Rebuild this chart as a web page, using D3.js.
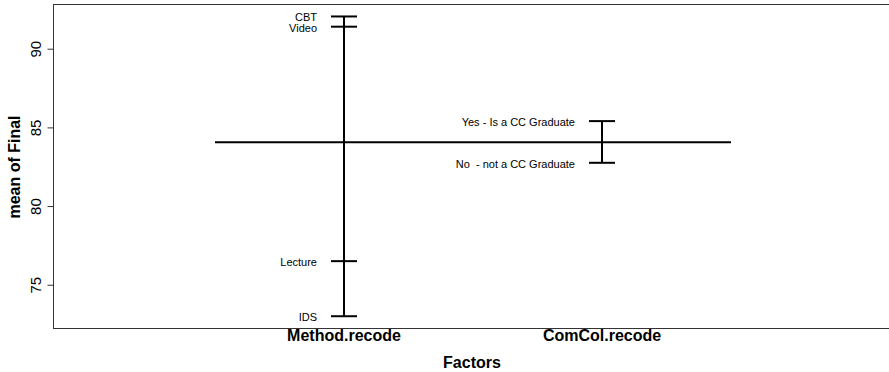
<!DOCTYPE html>
<html>
<head>
<meta charset="utf-8">
<script src="https://cdn.jsdelivr.net/npm/d3@7"></script>
<style>
  body { margin: 0; background: #fff; }
  text { font-family: "Liberation Sans", Arial, sans-serif; fill: #000; }
</style>
</head>
<body>
<svg id="chart" width="889" height="372"></svg>
<script>
const factors = ["Method.recode", "ComCol.recode"];
const methodLevels = ["CBT", "Video", "Lecture", "IDS"];
const methodMeans = [92.05, 91.4, 76.5, 73.0];
const comcolLevels = ["Yes - Is a CC Graduate", "No  - not a CC Graduate"];
const comcolMeans = [85.4, 82.75];
const grandMean = 84.05;
const yTicks = [75, 80, 85, 90];

const svg = d3.select("#chart");

const plotLeft = 53.5;
const plotTop = 4.5;
const plotBottom = 328.5;
const plotRight = 892;

// factor index -> x, level mean -> y
const x = d3.scaleLinear().domain([1, 2]).range([344, 602]);
const y = d3.scaleLinear().domain([72.22, 92.81]).range([plotBottom, plotTop]);

const groups = [
  { name: factors[0], levels: methodLevels, means: methodMeans },
  { name: factors[1], levels: comcolLevels, means: comcolMeans },
];

// box (right edge falls outside the picture)
svg
  .append("rect")
  .attr("x", plotLeft)
  .attr("y", plotTop)
  .attr("width", plotRight - plotLeft)
  .attr("height", plotBottom - plotTop)
  .attr("fill", "none")
  .attr("stroke", "#333")
  .attr("stroke-width", 1);

// y axis
const yAxis = svg
  .append("g")
  .attr("transform", "translate(" + plotLeft + ",0)")
  .call(d3.axisLeft(y).tickValues(yTicks).tickSize(6).tickPadding(4));
yAxis.select(".domain").remove();
yAxis.selectAll(".tick line").attr("stroke", "#333");
yAxis
  .selectAll(".tick text")
  .attr("font-size", 15)
  .attr("font-family", "Liberation Sans, Arial, sans-serif")
  .attr("text-anchor", "middle")
  .attr("transform", "rotate(-90)")
  .attr("x", 0)
  .attr("y", -16)
  .attr("dy", "0")
  .attr("dominant-baseline", "auto");
// place rotated labels
yAxis.selectAll(".tick text").each(function () {
  d3.select(this).attr("transform", "translate(-10,0) rotate(-90)").attr("y", 0).attr("dy", "-0.2em");
});

// grand mean line
svg
  .append("line")
  .attr("x1", x(0.5))
  .attr("x2", x(2.5))
  .attr("y1", y(grandMean))
  .attr("y2", y(grandMean))
  .attr("stroke", "#000")
  .attr("stroke-width", 2);

groups.forEach((g, i) => {
  const cx = x(i + 1);
  svg
    .append("line")
    .attr("x1", cx)
    .attr("x2", cx)
    .attr("y1", y(d3.min(g.means)))
    .attr("y2", y(d3.max(g.means)))
    .attr("stroke", "#000")
    .attr("stroke-width", 2);

  svg
    .selectAll(null)
    .data(g.means)
    .enter()
    .append("line")
    .attr("x1", cx - 13)
    .attr("x2", cx + 13)
    .attr("y1", (d) => y(d))
    .attr("y2", (d) => y(d))
    .attr("stroke", "#000")
    .attr("stroke-width", 2);

  svg
    .selectAll(null)
    .data(g.levels)
    .enter()
    .append("text")
    .attr("x", cx - 27)
    .attr("y", (d, j) => y(g.means[j]) + 1)
    .attr("dy", "0.35em")
    .attr("text-anchor", "end")
    .attr("font-size", 11)
    .style("white-space", "pre")
    .text((d) => d);

  svg
    .append("text")
    .attr("x", cx)
    .attr("y", 341)
    .attr("text-anchor", "middle")
    .attr("font-size", 16)
    .attr("font-weight", "bold")
    .text(g.name);
});

svg
  .append("text")
  .attr("x", 472)
  .attr("y", 368)
  .attr("text-anchor", "middle")
  .attr("font-size", 16)
  .attr("font-weight", "bold")
  .text("Factors");

svg
  .append("text")
  .attr("transform", "translate(20," + 167 + ") rotate(-90)")
  .attr("text-anchor", "middle")
  .attr("font-size", 16)
  .attr("font-weight", "bold")
  .text("mean of Final");
</script>
</body>
</html>
